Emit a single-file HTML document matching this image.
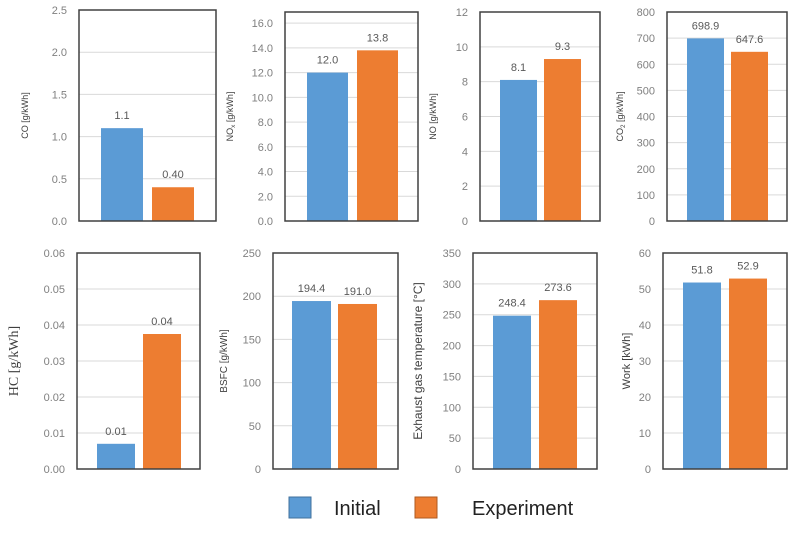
<!DOCTYPE html>
<html><head><meta charset="utf-8"><style>
body{margin:0;background:#fff;width:793px;height:528px;overflow:hidden;font-family:"Liberation Sans",sans-serif}
</style></head><body>
<svg id="c" width="793" height="528" xmlns="http://www.w3.org/2000/svg">
<g>
<rect x="289" y="497" width="22" height="21" fill="#5b9bd5" stroke="#41719c"/>
<text x="334" y="515" font-size="20" fill="#222">Initial</text>
<rect x="415" y="497" width="22" height="21" fill="#ed7d31" stroke="#ae5a21"/>
<text x="472" y="515" font-size="20" fill="#222">Experiment</text>
</g>
</svg>
<script>
const panelNames=["co","nox","no","co2","hc","bsfc","exhaust-temp","work"];
const initialValues=[1.1,12.0,8.1,698.9,0.007,194.4,248.4,51.8];
const experimentValues=[0.40,13.8,9.3,647.6,0.0375,191.0,273.6,52.9];
const initialLabels=["1.1","12.0","8.1","698.9","0.01","194.4","248.4","51.8"];
const experimentLabels=["0.40","13.8","9.3","647.6","0.04","191.0","273.6","52.9"];
const axisMax=[2.5,16.9,12,800,0.06,250,350,60];
const tickStep=[0.5,2,2,100,0.01,50,50,10];
const tickDecimals=[1,1,0,0,2,0,0,0];
const yTitleMain=["CO [g/kWh]","NO","NO [g/kWh]","CO","HC [g/kWh]","BSFC [g/kWh]","Exhaust gas temperature [°C]","Work [kWh]"];
const yTitleSub=["","x","","2","","","",""];
const yTitleTail=[""," [g/kWh]",""," [g/kWh]","","","",""];
const layout=[
 {x0:79,x1:216,y0:10,y1:221,b1:[101,143],b2:[152,194],tx:28,fs:9},
 {x0:285,x1:418,y0:12,y1:221,b1:[307,348],b2:[357,398],tx:233,fs:9},
 {x0:480,x1:600,y0:12,y1:221,b1:[500,537],b2:[544,581],tx:436,fs:9},
 {x0:667,x1:787,y0:12,y1:221,b1:[687,724],b2:[731,768],tx:623,fs:9},
 {x0:77,x1:200,y0:253,y1:469,b1:[97,135],b2:[143,181],tx:18,fs:14,serif:true},
 {x0:273,x1:398,y0:253,y1:469,b1:[292,331],b2:[338,377],tx:227,fs:10},
 {x0:473,x1:597,y0:253,y1:469,b1:[493,531],b2:[539,577],tx:422,fs:12},
 {x0:663,x1:787,y0:253,y1:469,b1:[683,721],b2:[729,767],tx:630,fs:11}
];
const NS="http://www.w3.org/2000/svg";
const svg=document.getElementById("c");
function mk(t,a,p){const e=document.createElementNS(NS,t);for(const k in a)e.setAttribute(k,a[k]);(p||svg).appendChild(e);return e;}
panelNames.forEach((nm,i)=>{
 const L=layout[i];
 const g=mk("g",{});
 
 
 const y=v=>L.y1-(v/axisMax[i])*(L.y1-L.y0);
 const n=Math.round(axisMax[i]/tickStep[i]+1e-6);
 for(let k=0;k<=n;k++){
  const v=k*tickStep[i];const yy=y(v);
  if(k>0){const gl=mk("line",{x1:L.x0,x2:L.x1,y1:yy,y2:yy,stroke:"#d9d9d9","stroke-width":1},g);
   
   }
  const t=mk("text",{x:L.x0-12,y:yy+4,"text-anchor":"end","font-size":11,fill:"#808080"},g);
  t.textContent=v.toFixed(tickDecimals[i]);
  
  
 }
 const vals=[initialValues[i],experimentValues[i]],labs=[initialLabels[i],experimentLabels[i]],cols=["#5b9bd5","#ed7d31"],bx=[L.b1,L.b2];
 vals.forEach((v,j)=>{
  const r=mk("rect",{x:bx[j][0],width:bx[j][1]-bx[j][0],y:y(v),height:L.y1-y(v),fill:cols[j]},g);
  
  
  const t=mk("text",{x:(bx[j][0]+bx[j][1])/2,y:y(v)-9,"text-anchor":"middle","font-size":11,fill:"#595959"},g);
  t.textContent=labs[j];
  
  
 });
 const fr=mk("rect",{x:L.x0,y:L.y0,width:L.x1-L.x0,height:L.y1-L.y0,fill:"none",stroke:"#404040","stroke-width":1.5},g);
 
 
 const cy=(L.y0+L.y1)/2;
 const tt=mk("text",{x:L.tx,y:cy,transform:`rotate(-90 ${L.tx} ${cy})`,"text-anchor":"middle","font-size":L.fs,fill:"#404040","font-family":L.serif?"Liberation Serif, serif":"Liberation Sans, sans-serif"},g);
 
 
 const s1=mk("tspan",{},tt);s1.textContent=yTitleMain[i];
 if(yTitleSub[i]){
  const s2=mk("tspan",{"font-size":L.fs*0.7,dy:2},tt);s2.textContent=yTitleSub[i];
  const s3=mk("tspan",{dy:-2},tt);s3.textContent=yTitleTail[i];
 }
});
</script>
</body></html>
